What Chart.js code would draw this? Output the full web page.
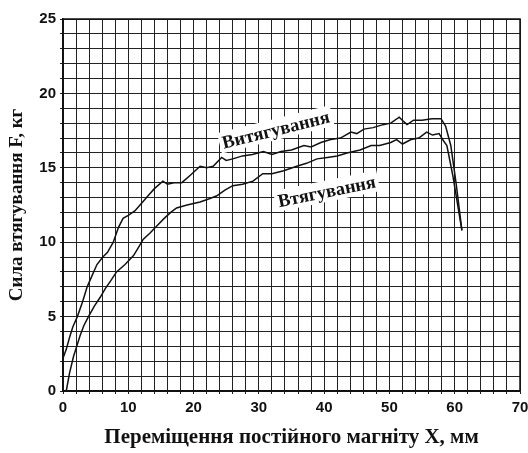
<!DOCTYPE html>
<html><head><meta charset="utf-8">
<script src="https://cdn.jsdelivr.net/npm/chart.js@4/dist/chart.umd.min.js"></script>
<style>html,body{margin:0;padding:0;background:#fff}#w{width:528px;height:453px}</style>
</head><body><div id="w"><canvas id="c"></canvas></div>
<script>
const xTickLabels = [0,10,20,30,40,50,60,70];
const yTickLabels = [0,5,10,15,20,25];
const pullOutName = "Витягування";
const pullOutX = [0,0.5,1,1.5,2.2,3,3.7,4.3,5.2,6.1,6.8,7.7,8.5,9.2,10,11,12,13,14,15.3,16,17,18.2,19.5,21,22,23,24.3,25,26,27.5,29,30.7,32,33.4,35,36.9,38,39.5,41,42.5,44.1,45,46.1,47.5,49,50.2,51.5,52.2,52.7,53.7,55,56.5,57.9,58.6,59.4,60.2,61.1];
const pullOutY = [2.2,2.8,3.6,4.3,5,6,7,7.6,8.5,9,9.3,10,11,11.6,11.8,12.1,12.6,13.1,13.6,14.1,13.9,14.0,14.0,14.5,15.1,15.0,15.1,15.7,15.5,15.6,15.8,15.9,16.1,15.9,16.1,16.2,16.5,16.4,16.7,16.9,17.0,17.4,17.3,17.6,17.7,17.9,18.0,18.4,18.1,17.9,18.2,18.2,18.3,18.3,17.8,16.5,14,10.8];
const pullInName = "Втягування";
const pullInX = [0.5,1,1.6,2.6,3.2,3.9,4.8,5.7,6.5,7.3,8.2,9.5,10.8,11.5,12.3,13.3,14.4,15.5,16.5,17.4,19,21,22.3,23.5,24.8,26,27.5,29.1,30.6,32,33.8,35.8,37.3,38.9,40.5,42,43.5,45.5,47.2,48.5,50.2,51.1,52,53.3,54.5,55.7,56.6,57.6,58.3,58.8,59.7,61.1];
const pullInY = [0,1.2,2.3,3.7,4.4,5,5.7,6.3,6.9,7.4,8.0,8.5,9.1,9.6,10.2,10.6,11.1,11.6,12.0,12.3,12.5,12.7,12.9,13.1,13.5,13.8,13.9,14.1,14.6,14.6,14.8,15.1,15.3,15.6,15.7,15.8,16.0,16.2,16.5,16.5,16.7,16.9,16.6,16.9,17.0,17.4,17.2,17.3,16.8,16.5,14.5,10.8];
const xTitle = "Переміщення постійного магніту X, мм";
const yTitle = "Сила втягування F, кг";
const curveLabels = [
  {text: pullOutName, x: 32.6, y: 17.55, angle: -14},
  {text: pullInName, x: 40.4, y: 13.4, angle: -11.5}
];

const toPts = (xs, ys) => xs.map((x,i)=>({x, y: ys[i]}));

const labelPlugin = {
  id: 'curveLabels',
  afterDatasetsDraw(chart) {
    const {ctx, scales} = chart;
    ctx.save();
    ctx.font = 'bold 18.5px "Liberation Serif", "Times New Roman", serif';
    ctx.textAlign = 'center';
    ctx.textBaseline = 'middle';
    curveLabels.forEach(l => {
      const px = scales.x.getPixelForValue(l.x);
      const py = scales.y.getPixelForValue(l.y);
      ctx.save();
      ctx.translate(px, py);
      ctx.rotate(l.angle * Math.PI / 180);
      const w = ctx.measureText(l.text).width;
      ctx.fillStyle = '#fff';
      ctx.fillRect(-w/2 - 3, -11, w + 6, 21);
      ctx.fillStyle = '#111';
      ctx.fillText(l.text, 0, 1);
      ctx.restore();
    });
    ctx.restore();
  }
};

new Chart(document.getElementById('c'), {
  type: 'line',
  data: {
    datasets: [
      {label: pullOutName, data: toPts(pullOutX, pullOutY), borderColor: '#111', borderWidth: 1.5, pointRadius: 0, tension: 0, fill: false},
      {label: pullInName, data: toPts(pullInX, pullInY), borderColor: '#111', borderWidth: 1.5, pointRadius: 0, tension: 0, fill: false}
    ]
  },
  options: {
    responsive: true,
    maintainAspectRatio: false,
    animation: false,
    layout: {padding: {top: 19, right: 0, left: 0, bottom: 0}},
    plugins: {legend: {display: false}, tooltip: {enabled: false}},
    scales: {
      x: {
        type: 'linear', min: 0, max: 70,
        afterFit: s => { s.height = 62; s.paddingRight = 8; s.paddingLeft = 0; },
        ticks: {
          stepSize: 2, autoSkip: false, maxRotation: 0,
          color: '#111', padding: 5,
          font: {family: '"Liberation Sans", Arial, sans-serif', weight: 'bold', size: 15},
          callback: v => xTickLabels.includes(v) ? String(v) : ''
        },
        grid: {color: '#222', lineWidth: 1, drawTicks: true, tickLength: 3},
        border: {color: '#111', width: 1.5},
        title: {display: true, text: xTitle, color: '#111', padding: {top: 0, bottom: 3},
          font: {family: '"Liberation Serif", "Times New Roman", serif', weight: 'bold', size: 21}}
      },
      y: {
        type: 'linear', min: 0, max: 25,
        afterFit: s => { s.width = 63; s.paddingTop = 0; s.paddingBottom = 0; },
        ticks: {
          stepSize: 1, autoSkip: false,
          color: '#111', padding: 4,
          font: {family: '"Liberation Sans", Arial, sans-serif', weight: 'bold', size: 15},
          callback: v => yTickLabels.includes(v) ? String(v) : ''
        },
        grid: {color: '#222', lineWidth: 1, drawTicks: true, tickLength: 3},
        border: {color: '#111', width: 1.5},
        title: {display: true, text: yTitle, color: '#111', padding: {top: 6, bottom: 0},
          font: {family: '"Liberation Serif", "Times New Roman", serif', weight: 'bold', size: 19}}
      }
    }
  },
  plugins: [labelPlugin, {
    id: 'frame',
    afterDraw(chart) {
      const {ctx, chartArea: a} = chart;
      ctx.save(); ctx.strokeStyle = '#111'; ctx.lineWidth = 1.5;
      ctx.strokeRect(a.left, a.top, a.right - a.left, a.bottom - a.top);
      ctx.restore();
    }
  }]
});
</script></body></html>
